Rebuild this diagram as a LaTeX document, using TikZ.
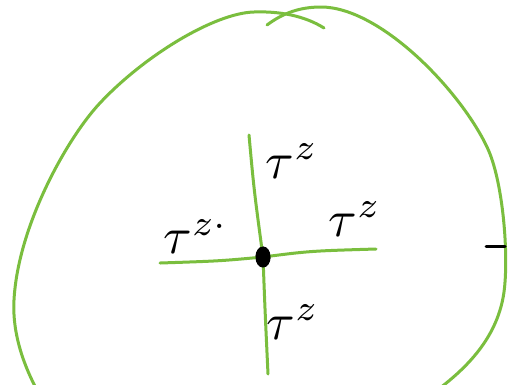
\documentclass[tikz,border=0pt]{standalone}
\usetikzlibrary{shapes.geometric}
\definecolor{pen}{RGB}{122,190,62}
\tikzset{
  penline/.style={draw=pen, line width=3pt, line cap=round, line join=round},
  lbl/.style={scale=5.2, inner sep=0pt},
  dotnode/.style={ellipse, fill=black, minimum width=15pt, minimum height=21pt, inner sep=0pt}
}
\begin{document}
\begin{tikzpicture}[x=1pt,y=-1pt]
\useasboundingbox (0,0) rectangle (508,384);
\fill[white] (0,0) rectangle (508,384);
\clip (0,0) rectangle (508,384);
% outline strokes
\draw[penline] (324,28) .. controls (305,16) and (280,11) .. (254,12)
  .. controls (215,13) and (145,55) .. (100,103)
  .. controls (68,137) and (18,225) .. (14,300)
  .. controls (12,335) and (25,368) .. (38,392);
\draw[penline] (267,25) .. controls (283,13) and (300,7) .. (321,7)
  .. controls (380,7) and (460,90) .. (487,147)
  .. controls (503,180) and (509,255) .. (504,292)
  .. controls (498,335) and (470,365) .. (440,388);
% cross
\node[dotnode] (c) at (263,257) {};
\coordinate (t) at (249,135);
\coordinate (b) at (268,374);
\coordinate (l) at (160,263);
\coordinate (r) at (376,249);
\draw[penline] (t) .. controls (254,190) .. (c.center) .. controls (265,310) .. (b);
\draw[penline] (l) .. controls (220,261) .. (c.center) .. controls (310,251) .. (r);
\node[dotnode] at (263,257) {};
% labels
\node[lbl] (lt) at (292,161) {$\tau^{z}$};
\node[lbl] (lr) at (355,219) {$\tau^{z}$};
\node[lbl] (ll) at (196,236) {$\tau^{z\cdot}$};
\node[lbl] (lb) at (293,322) {$\tau^{z}$};
% tick
\coordinate (k1) at (486,246);
\coordinate (k2) at (505,246);
\draw[line width=3pt, line cap=round] (k1) -- (k2);
\end{tikzpicture}
\end{document}
